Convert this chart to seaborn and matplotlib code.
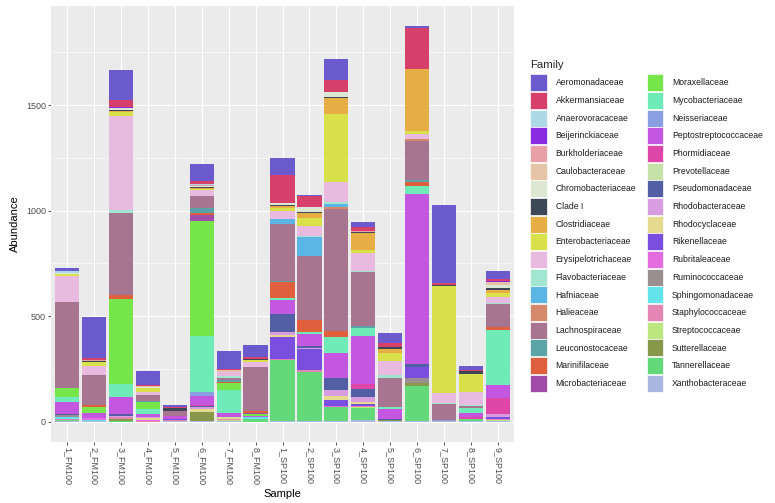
import numpy as np
import pandas as pd
import matplotlib
matplotlib.use("Agg")
import matplotlib.pyplot as plt
from matplotlib.patches import Patch
import seaborn as sns

# samples in x order
samples = ["1_FM100", "2_FM100", "3_FM100", "4_FM100", "5_FM100", "6_FM100", "7_FM100", "8_FM100",
           "1_SP100", "2_SP100", "3_SP100", "4_SP100", "5_SP100", "6_SP100", "7_SP100", "8_SP100", "9_SP100"]

# abundance per family (same order as samples)
aeromonadaceae = [16, 197, 142, 66, 9, 79, 84, 60, 79, 6, 98, 25, 47, 9, 366, 17, 38]
akkermansiaceae = [0, 8, 36, 6, 4, 16, 5, 8, 136, 51, 55, 16, 19, 194, 9, 6, 9]
anaerovoracaceae = [5, 0, 0, 0, 0, 3, 0, 0, 0, 0, 0, 0, 0, 0, 0, 0, 0]
beijerinckiaceae = [0, 0, 3, 0, 0, 0, 0, 0, 0, 0, 0, 0, 0, 0, 0, 0, 5]
burkholderiaceae = [0, 4, 0, 0, 0, 4, 0, 0, 0, 0, 0, 5, 0, 0, 0, 0, 3]
caulobacteraceae = [0, 0, 0, 5, 0, 0, 8, 0, 0, 0, 0, 0, 0, 0, 0, 0, 13]
chromobacteriaceae = [5, 0, 8, 5, 4, 6, 0, 0, 6, 22, 25, 0, 0, 0, 0, 0, 13]
clade_i = [0, 6, 6, 0, 12, 6, 0, 6, 6, 6, 8, 5, 9, 0, 9, 13, 9]
clostridiaceae = [0, 0, 6, 0, 0, 4, 0, 0, 9, 22, 72, 82, 22, 297, 0, 0, 13]
enterobacteriaceae = [10, 19, 20, 19, 0, 6, 0, 6, 16, 38, 325, 13, 38, 11, 505, 88, 22]
erysipelotrichaceae = [125, 44, 443, 16, 0, 28, 22, 24, 38, 47, 95, 85, 66, 25, 47, 60, 28]
flavobacteriaceae = [0, 0, 12, 0, 0, 0, 6, 0, 0, 6, 8, 8, 13, 0, 6, 6, 6]
hafniaceae = [0, 0, 0, 0, 0, 0, 0, 0, 25, 91, 16, 0, 0, 0, 0, 0, 0]
halieaceae = [0, 0, 0, 0, 0, 0, 0, 0, 0, 0, 9, 0, 0, 9, 0, 0, 0]
lachnospiraceae = [407, 142, 391, 25, 25, 57, 12, 208, 268, 300, 574, 254, 136, 186, 73, 9, 107]
leuconostocaceae = [0, 0, 0, 9, 0, 22, 9, 0, 6, 0, 0, 9, 0, 9, 0, 0, 0]
marinifilaceae = [0, 7, 16, 0, 0, 8, 6, 9, 73, 60, 32, 0, 0, 16, 0, 0, 13]
microbacteriaceae = [0, 0, 0, 0, 0, 28, 0, 6, 0, 0, 0, 0, 0, 0, 0, 0, 0]
moraxellaceae = [44, 31, 405, 32, 0, 547, 32, 8, 0, 0, 0, 0, 0, 0, 0, 0, 0]
mycobacteriaceae = [20, 0, 63, 22, 0, 265, 110, 0, 12, 9, 73, 38, 9, 38, 0, 22, 259]
neisseriaceae = [0, 0, 0, 0, 0, 19, 0, 0, 0, 0, 0, 0, 0, 0, 5, 0, 0]
peptostreptococcaceae = [59, 22, 79, 13, 15, 41, 19, 9, 66, 54, 120, 227, 47, 805, 0, 22, 66]
phormidiaceae = [0, 0, 0, 0, 0, 6, 0, 0, 0, 0, 0, 22, 0, 0, 0, 5, 73]
prevotellaceae = [0, 0, 0, 0, 0, 0, 3, 0, 0, 0, 0, 0, 0, 0, 0, 0, 0]
pseudomonadaceae = [6, 0, 8, 0, 0, 6, 0, 0, 85, 9, 57, 38, 6, 16, 0, 0, 0]
rhodobacteraceae = [0, 0, 8, 5, 0, 6, 0, 0, 12, 9, 28, 28, 0, 0, 0, 4, 16]
rhodocyclaceae = [0, 0, 0, 10, 0, 16, 5, 0, 10, 0, 19, 9, 0, 0, 0, 0, 0]
rikenellaceae = [0, 0, 0, 0, 4, 0, 0, 0, 103, 98, 28, 6, 0, 50, 0, 0, 6]
rubritaleaceae = [0, 8, 0, 5, 0, 0, 0, 0, 0, 0, 4, 0, 0, 0, 0, 0, 0]
ruminococcaceae = [10, 0, 0, 0, 0, 0, 0, 0, 0, 0, 0, 0, 0, 25, 0, 0, 0]
sphingomonadaceae = [7, 5, 0, 0, 0, 0, 0, 9, 0, 0, 0, 0, 0, 0, 0, 0, 0]
staphylococcaceae = [4, 0, 8, 5, 4, 0, 5, 0, 8, 9, 0, 5, 0, 0, 0, 0, 5]
streptococcaceae = [3, 0, 0, 0, 0, 0, 4, 0, 0, 0, 0, 4, 0, 0, 0, 0, 6]
sutterellaceae = [0, 0, 8, 0, 0, 41, 0, 0, 0, 0, 0, 0, 5, 16, 0, 0, 0]
tannerellaceae = [3, 0, 5, 0, 0, 0, 0, 12, 287, 231, 66, 60, 0, 164, 0, 6, 0]
xanthobacteraceae = [4, 5, 0, 0, 4, 6, 4, 0, 5, 5, 5, 8, 5, 5, 5, 6, 5]

families = ["Aeromonadaceae", "Akkermansiaceae", "Anaerovoracaceae", "Beijerinckiaceae",
            "Burkholderiaceae", "Caulobacteraceae", "Chromobacteriaceae", "Clade I",
            "Clostridiaceae", "Enterobacteriaceae", "Erysipelotrichaceae", "Flavobacteriaceae",
            "Hafniaceae", "Halieaceae", "Lachnospiraceae", "Leuconostocaceae",
            "Marinifilaceae", "Microbacteriaceae", "Moraxellaceae", "Mycobacteriaceae",
            "Neisseriaceae", "Peptostreptococcaceae", "Phormidiaceae", "Prevotellaceae",
            "Pseudomonadaceae", "Rhodobacteraceae", "Rhodocyclaceae", "Rikenellaceae",
            "Rubritaleaceae", "Ruminococcaceae", "Sphingomonadaceae", "Staphylococcaceae",
            "Streptococcaceae", "Sutterellaceae", "Tannerellaceae", "Xanthobacteraceae"]

colors = ["#6A5ACD", "#D6406B", "#ADD8E6", "#8A2BE2", "#E8A0A8", "#E5C4A8", "#DDE8D4", "#3D4857",
          "#E6AE45", "#D9E14A", "#E8BAE0", "#A0E6D0", "#5BB5E5", "#D6896B", "#A87590", "#5BA3A6",
          "#E0603E", "#A04CA8", "#76E64A", "#6FEBB8", "#8A9FE0", "#C457E0", "#E046A8", "#C6E2A8",
          "#525FA5", "#D89CE0", "#E6DA8E", "#7A4FE0", "#E56CDF", "#9B8E8E", "#63E4EC", "#E485B4",
          "#BCE67E", "#87984B", "#63D97A", "#A9B6E0"]

values = [aeromonadaceae, akkermansiaceae, anaerovoracaceae, beijerinckiaceae, burkholderiaceae,
          caulobacteraceae, chromobacteriaceae, clade_i, clostridiaceae, enterobacteriaceae,
          erysipelotrichaceae, flavobacteriaceae, hafniaceae, halieaceae, lachnospiraceae,
          leuconostocaceae, marinifilaceae, microbacteriaceae, moraxellaceae, mycobacteriaceae,
          neisseriaceae, peptostreptococcaceae, phormidiaceae, prevotellaceae, pseudomonadaceae,
          rhodobacteraceae, rhodocyclaceae, rikenellaceae, rubritaleaceae, ruminococcaceae,
          sphingomonadaceae, staphylococcaceae, streptococcaceae, sutterellaceae,
          tannerellaceae, xanthobacteraceae]

# sample x family table
df = pd.DataFrame(np.array(values).T, index=samples, columns=families)

sns.set_theme(style="white")
plt.rcParams["font.family"] = ["Liberation Sans", "DejaVu Sans"]

fig = plt.figure(figsize=(7.75, 5.03), dpi=100)
ax = fig.add_axes([51 / 775, 1 - 441.7 / 503, 463 / 775, 435.7 / 503])
ax.set_facecolor("#EBEBEB")

# ggplot stacks the first level on top: cumulative from the bottom (last family)
cum = df[families[::-1]].cumsum(axis=1)[families]
for fam, col in zip(families, colors):
    sns.barplot(x=samples, y=cum[fam].values, color=col, width=0.9, saturation=1,
                linewidth=0, ax=ax, order=samples, zorder=3)

total = df.sum(axis=1).max()
ax.set_ylim(-0.05 * total, 1.05 * total)
ax.set_xlim(-0.6, len(samples) - 0.4)

# grid like ggplot theme_grey
for y in [250, 750, 1250, 1750]:
    ax.axhline(y, color="white", lw=0.4, zorder=1)
for y in [0, 500, 1000, 1500]:
    ax.axhline(y, color="white", lw=0.8, zorder=1)
for x in range(len(samples)):
    ax.axvline(x, color="white", lw=0.8, zorder=1)

for s in ax.spines.values():
    s.set_visible(False)
ax.set_yticks([0, 500, 1000, 1500])
ax.set_yticklabels(["0", "500", "1000", "1500"])
ax.set_xticks(range(len(samples)))
ax.set_xticklabels(samples, rotation=270, ha="center", va="top")
ax.tick_params(axis="both", length=2.2, width=0.6, color="#333333", labelcolor="#4D4D4D",
               labelsize=6.5, pad=1.5, bottom=True, left=True)
ax.set_xlabel("Sample", fontsize=8, color="black", labelpad=3)
ax.set_ylabel("Abundance", fontsize=8, color="black", labelpad=4)

handles = [Patch(facecolor=c, edgecolor="white", linewidth=0.5, label=f) for f, c in zip(families, colors)]
leg = fig.legend(handles=handles, ncol=2, loc="upper left", bbox_to_anchor=(530 / 775, 1 - 60 / 503),
                 frameon=False, title="Family", fontsize=6.2, title_fontsize=8.2,
                 handlelength=1.97, handleheight=2.66, labelspacing=0.08, handletextpad=1.0,
                 columnspacing=1.2, borderaxespad=0, borderpad=0)
leg._legend_box.align = "left"
leg._legend_box.sep = 3
for t in leg.get_texts():
    t.set_color("#1A1A1A")

fig.savefig("out.png", dpi=100)
